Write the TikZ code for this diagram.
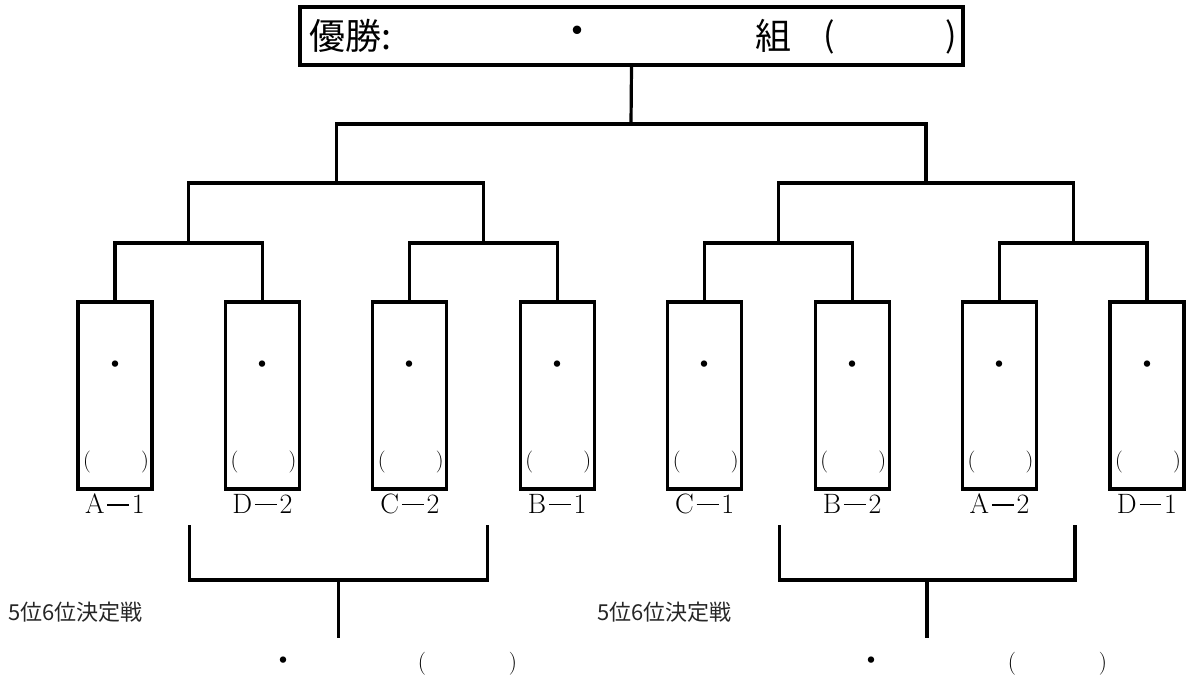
\documentclass[tikz,border=0pt]{standalone}
\usepackage{fontspec}
\newfontfamily\jp{Noto Sans CJK JP}
\newcommand\dashlab[2]{#1\kern0.1em\rule[0.3em]{0.78em}{0.05em}\kern0.1em#2}
\begin{document}
\begin{tikzpicture}[x=1pt,y=-1pt,
  conn/.style={line width=3.2pt,line join=miter},
  team/.style={draw,line width=3.2pt,minimum width=74pt,minimum height=187pt,inner sep=0pt},
  ttext/.style={font=\jp\fontsize{36}{36}\selectfont,inner sep=0pt},
  dotm/.style={font=\jp\fontsize{30}{30}\selectfont,inner sep=0pt},
  par/.style={font=\fontsize{22}{22}\selectfont,text=black,inner sep=0pt},
  bpar/.style={font=\fontsize{23}{23}\selectfont,text=black,inner sep=0pt},
  lab/.style={font=\fontsize{28}{28}\selectfont,inner sep=0pt},
  rank/.style={font=\jp\fontsize{22}{22}\selectfont,text=black!85,inner sep=0pt,anchor=west}]
\useasboundingbox (0,0) rectangle (1186,677);
% title
\node[draw,line width=3.2pt,minimum width=663pt,minimum height=58pt,inner sep=0pt] (title) at (631.5,36) {};
\node[ttext,anchor=west] (tl) at (309,36) {優勝:};
\node[dotm,font=\jp\fontsize{40}{40}\selectfont] (td) at (577,36) {・};
\node[ttext] (tk) at (773,36) {組};
\node[ttext,font=\jp\fontsize{34}{34}\selectfont] (tp1) at (829,37) {(};
\node[ttext,font=\jp\fontsize{34}{34}\selectfont] (tp2) at (951,37) {)};
% teams
\foreach \i/\l/\n in {1/A/1,2/D/2,3/C/2,4/B/1,5/C/1,6/B/2,7/A/2,8/D/1}{
  \pgfmathsetmacro\cx{115+147.43*(\i-1)}
  \node[team] (b\i) at (\cx,395.5) {};
  \node[dotm] (d\i) at (\cx,368) {・};
  \node[par] (pl\i) at (\cx-28,462) {(};
  \node[par] (pr\i) at (\cx+30,462) {)};
  \node[lab] (l\i) at (\cx,504) {\dashlab{\l}{\n}};
}
% junctions
\coordinate (m12) at (188.7,243);
\coordinate (m34) at (483.6,243);
\coordinate (m56) at (778.4,243);
\coordinate (m78) at (1073.3,243);
\coordinate (q1) at (336.1,183);
\coordinate (q2) at (925.9,183);
\coordinate (s) at (631,124);
\draw[conn] (b1.north) |- (m12) -| (b2.north);
\draw[conn] (b3.north) |- (m34) -| (b4.north);
\draw[conn] (b5.north) |- (m56) -| (b6.north);
\draw[conn] (b7.north) |- (m78) -| (b8.north);
\draw[conn] (m12) |- (q1) -| (m34);
\draw[conn] (m56) |- (q2) -| (m78);
\draw[conn] (q1) |- (s) -| (q2);
\draw[conn] (s) -- (title.south);
% 5th-6th brackets
\coordinate (c1a) at (189.5,525);
\coordinate (c1b) at (487.5,525);
\coordinate (c1) at (338.5,580);
\coordinate (c1e) at (338.5,638);
\coordinate (c2a) at (779.5,525);
\coordinate (c2b) at (1075,525);
\coordinate (c2) at (927,580);
\coordinate (c2e) at (927,638);
\draw[conn] (c1a) |- (c1) -| (c1b);
\draw[conn] (c1) -- (c1e);
\draw[conn] (c2a) |- (c2) -| (c2b);
\draw[conn] (c2) -- (c2e);
\node[rank] (r1) at (8,612) {5位6位決定戦};
\node[rank] (r2) at (597,612) {5位6位決定戦};
\node[dotm] (bd1) at (283,664) {・};
\node[bpar] (bp1) at (422,664) {(};
\node[bpar] (bq1) at (513,664) {)};
\node[dotm] (bd2) at (871,664) {・};
\node[bpar] (bp2) at (1012,664) {(};
\node[bpar] (bq2) at (1103,664) {)};
\end{tikzpicture}
\end{document}
